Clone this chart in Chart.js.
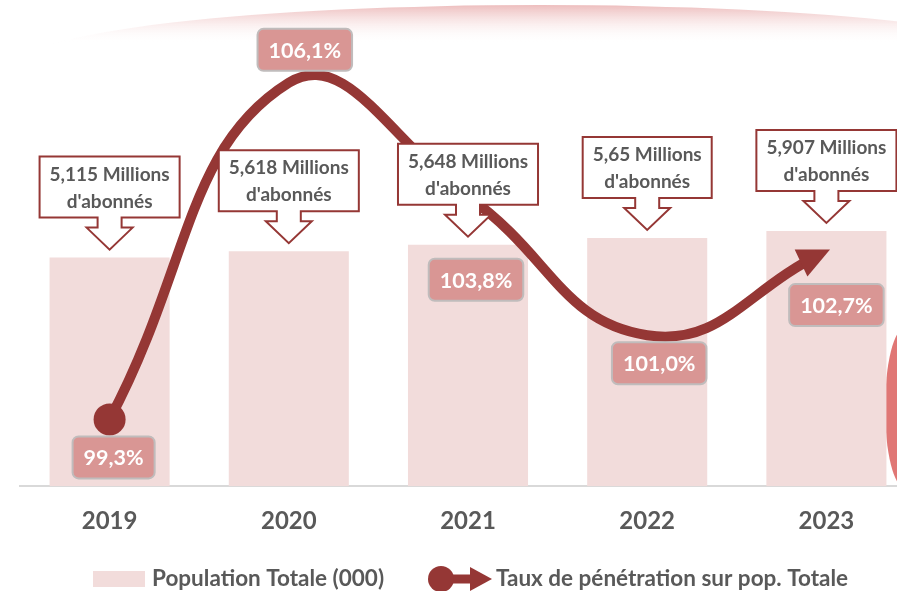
<!DOCTYPE html>
<html lang="fr">
<head>
<meta charset="utf-8">
<title>Abonnés et taux de pénétration</title>
<script src="https://cdn.jsdelivr.net/npm/chart.js@4.4.1/dist/chart.umd.min.js"></script>
<style>
  html, body { margin: 0; padding: 0; background: #fff; overflow: hidden; }
  #wrap { width: 917px; height: 591px; }
</style>
</head>
<body>
<div id="wrap"><canvas id="abonnesChart" width="917" height="591"></canvas></div>
<script>
const years = ['2019', '2020', '2021', '2022', '2023'];
const population = [5151, 5295, 5441, 5594, 5752];     // milliers
const penetration = [99.3, 106.1, 103.8, 101.0, 102.7]; // %
const subscribers = [5.115, 5.618, 5.648, 5.65, 5.907]; // millions

const FONT = 'Lato, "Open Sans", sans-serif';
const RED = '#953735';
const GREY = '#595959';
const PINK = '#f2dcdb';

// where the % tags sit relative to the curve point
const tagOffset = [[4, 38], [16, -33], [8, 83], [12, 28], [10, 54]];

function fr(v) { return String(v).replace('.', ','); }

function arrowGeom(meta) {
  const p = meta.data[meta.data.length - 1];
  let dx = p.x - p.cp1x, dy = p.y - p.cp1y;
  const len = Math.hypot(dx, dy) || 1;
  dx /= len; dy /= len;
  const tip = { x: p.x + dx * 4, y: p.y + dy * 4 };
  const base = { x: tip.x - dx * 32, y: tip.y - dy * 32 };
  return { dx, dy, tip, base, nx: -dy, ny: dx };
}

const decoPlugin = {
  id: 'deco',
  beforeDraw(chart) {
    const ctx = chart.ctx;
    ctx.save();
    ctx.beginPath();
    ctx.rect(0, 0, chart.width, 44);
    ctx.clip();
    const g = ctx.createLinearGradient(0, 5, 0, 44);
    g.addColorStop(0, 'rgba(234,178,178,0.85)');
    g.addColorStop(1, 'rgba(255,255,255,0)');
    ctx.fillStyle = g;
    ctx.beginPath();
    ctx.ellipse(540, 65, 520, 60, 0, 0, Math.PI * 2);
    ctx.fill();
    ctx.restore();

    ctx.save();
    ctx.fillStyle = '#e07775';
    ctx.beginPath();
    ctx.ellipse(905, 408, 20, 80, 0, 0, Math.PI * 2);
    ctx.fill();
    ctx.restore();
  }
};

const arrowPlugin = {
  id: 'arrow',
  beforeDatasetDraw(chart, args) {
    if (args.meta.type !== 'line') return;
    args.meta.dataset.updateControlPoints(chart.chartArea, 'x');
    const a = arrowGeom(args.meta);
    const bx = a.base.x + a.dx * 2, by = a.base.y + a.dy * 2;
    const ctx = chart.ctx;
    ctx.save();
    ctx.beginPath();
    ctx.moveTo(bx + a.nx * 3000, by + a.ny * 3000);
    ctx.lineTo(bx + a.nx * 3000 - a.dx * 3000, by + a.ny * 3000 - a.dy * 3000);
    ctx.lineTo(bx - a.nx * 3000 - a.dx * 3000, by - a.ny * 3000 - a.dy * 3000);
    ctx.lineTo(bx - a.nx * 3000, by - a.ny * 3000);
    ctx.closePath();
    ctx.clip();
  },
  afterDatasetDraw(chart, args) {
    if (args.meta.type !== 'line') return;
    const ctx = chart.ctx;
    ctx.restore();
    const a = arrowGeom(args.meta);
    ctx.save();
    ctx.fillStyle = RED;
    ctx.beginPath();
    ctx.moveTo(a.tip.x, a.tip.y);
    ctx.lineTo(a.base.x + a.nx * 15, a.base.y + a.ny * 15);
    ctx.lineTo(a.base.x - a.nx * 15, a.base.y - a.ny * 15);
    ctx.closePath();
    ctx.fill();
    ctx.restore();
  }
};

const labelPlugin = {
  id: 'labels',
  afterDatasetsDraw(chart) {
    const ctx = chart.ctx;
    const bars = chart.getDatasetMeta(0).data;
    const pts = chart.getDatasetMeta(1).data;
    ctx.save();
    ctx.textAlign = 'center';
    ctx.textBaseline = 'middle';

    // callouts "x Millions d'abonnés"
    ctx.font = 'bold 19px ' + FONT;
    bars.forEach((b, i) => {
      const l1 = fr(subscribers[i]) + ' Millions';
      const l2 = "d'abonnés";
      const w = Math.max(ctx.measureText(l1).width, ctx.measureText(l2).width) + 20;
      const cx = b.x;
      const tipY = b.y - 8;
      const bot = tipY - 32;
      const top = bot - 61;
      ctx.beginPath();
      ctx.moveTo(cx - w / 2, top);
      ctx.lineTo(cx + w / 2, top);
      ctx.lineTo(cx + w / 2, bot);
      ctx.lineTo(cx + 12, bot);
      ctx.lineTo(cx + 12, bot + 10);
      ctx.lineTo(cx + 23, bot + 10);
      ctx.lineTo(cx, tipY);
      ctx.lineTo(cx - 23, bot + 10);
      ctx.lineTo(cx - 12, bot + 10);
      ctx.lineTo(cx - 12, bot);
      ctx.lineTo(cx - w / 2, bot);
      ctx.closePath();
      ctx.fillStyle = '#fff';
      ctx.fill();
      ctx.lineWidth = 2;
      ctx.strokeStyle = RED;
      ctx.stroke();
      ctx.fillStyle = GREY;
      ctx.fillText(l1, cx, top + 18);
      ctx.fillText(l2, cx, top + 45);
    });

    // % tags on the curve
    ctx.font = 'bold 21.5px ' + FONT;
    pts.forEach((p, i) => {
      const txt = penetration[i].toFixed(1).replace('.', ',') + '%';
      const w = ctx.measureText(txt).width + 22;
      const h = 42;
      const cx = p.x + tagOffset[i][0];
      const cy = p.y + tagOffset[i][1];
      ctx.beginPath();
      ctx.roundRect(cx - w / 2, cy - h / 2, w, h, 6);
      ctx.fillStyle = '#d99694';
      ctx.fill();
      ctx.lineWidth = 2;
      ctx.strokeStyle = '#c0bcbc';
      ctx.stroke();
      ctx.fillStyle = '#fff';
      ctx.fillText(txt, cx, cy + 1);
    });
    ctx.restore();
  },
  afterDraw(chart) {
    // legend
    const ctx = chart.ctx;
    const y = 579;
    ctx.save();
    ctx.fillStyle = PINK;
    ctx.fillRect(93, y - 8, 52, 16);
    ctx.font = 'bold 22.5px ' + FONT;
    ctx.fillStyle = GREY;
    ctx.textAlign = 'left';
    ctx.textBaseline = 'middle';
    ctx.fillText(chart.data.datasets[0].label, 152, y);

    ctx.fillStyle = RED;
    ctx.strokeStyle = RED;
    ctx.lineWidth = 9;
    ctx.beginPath();
    ctx.moveTo(441, y);
    ctx.lineTo(474, y);
    ctx.stroke();
    ctx.beginPath();
    ctx.arc(441, y, 13, 0, Math.PI * 2);
    ctx.fill();
    ctx.beginPath();
    ctx.moveTo(470, y - 12);
    ctx.lineTo(492, y);
    ctx.lineTo(470, y + 12);
    ctx.closePath();
    ctx.fill();
    ctx.fillStyle = GREY;
    ctx.fillText(chart.data.datasets[1].label, 496, y);
    ctx.restore();
  }
};

const ctx = document.getElementById('abonnesChart').getContext('2d');

new Chart(ctx, {
  type: 'bar',
  data: {
    labels: years,
    datasets: [{
      type: 'bar',
      label: 'Population Totale (000)',
      data: population,
      backgroundColor: PINK,
      yAxisID: 'y',
      categoryPercentage: 1,
      barPercentage: 0.67,
      order: 1
    }, {
      type: 'line',
      label: 'Taux de pénétration sur pop. Totale',
      data: penetration,
      yAxisID: 'y1',
      borderColor: RED,
      borderWidth: 10,
      borderCapStyle: 'butt',
      tension: 0.45,
      pointRadius: c => c.dataIndex === 0 ? 16 : 0,
      pointBackgroundColor: RED,
      pointBorderWidth: 0,
      order: 0
    }]
  },
  options: {
    responsive: false,
    animation: false,
    layout: { autoPadding: false, padding: { top: 20, left: 20, right: 1, bottom: 34 } },
    plugins: {
      legend: { display: false },
      tooltip: { enabled: false }
    },
    scales: {
      x: {
        grid: { display: false, drawTicks: false },
        border: { display: true, color: '#d9d9d9', width: 2 },
        ticks: { color: GREY, font: { family: FONT, size: 24, weight: 'bold' }, padding: 21 }
      },
      y: { display: false, min: 0, max: 10505 },
      y1: { display: false, min: 97.95, max: 107.37 }
    }
  },
  plugins: [decoPlugin, arrowPlugin, labelPlugin]
});
</script>
</body>
</html>
